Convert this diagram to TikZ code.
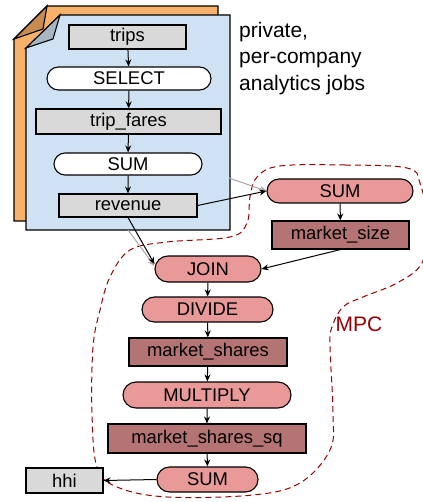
\documentclass[tikz,border=0pt]{standalone}
\usepackage{fontspec}
\setmainfont{Liberation Sans}
\usetikzlibrary{shapes.misc, arrows.meta}

\definecolor{pageorange}{HTML}{F6B26B}
\definecolor{foldorange}{HTML}{C98C50}
\definecolor{pageblue}{HTML}{CFE2F3}
\definecolor{foldblue}{HTML}{A8B6C4}
\definecolor{datagrey}{HTML}{D9D9D9}
\definecolor{oppink}{HTML}{EA9999}
\definecolor{datared}{HTML}{B47474}
\definecolor{mpcred}{HTML}{990000}

\tikzset{
    box/.style={draw, line width=1.1pt, inner sep=0pt, font=\fontsize{18.4}{20}\selectfont},
    data/.style={box, rectangle, fill=datagrey},
    op/.style={box, rounded rectangle, fill=white},
    mop/.style={op, fill=oppink},
    mdata/.style={data, fill=datared},
    flow/.style={-{Stealth[length=7pt, width=6pt]}, line width=1pt},
}

\begin{document}
\begin{tikzpicture}[x=1pt, y=-1pt]

            % the frame
            \useasboundingbox (0, 0) rectangle (422, 502);

            % the pages
            \draw[line width=1.1pt, fill=pageorange] (14, 39) -- (47, 6) -- (218, 6) -- (218, 221) -- (14, 221) -- cycle;
            \draw[line width=1.1pt, fill=foldorange] (14, 39) -- (47, 6) -- (43, 29) -- cycle;
            \draw[line width=1.1pt, fill=pageblue] (26, 48) -- (60, 15) -- (230, 15) -- (230, 230) -- (26, 230) -- cycle;
            \draw[line width=1.1pt, fill=foldblue] (26, 48) -- (60, 15) -- (53, 39) -- cycle;

            % the job
            \node[data, minimum width=117pt, minimum height=24pt] (trips) at (127.5, 37) {trips};
            \node[op, minimum width=164pt, minimum height=23pt] (select) at (129, 78.5) {SELECT};
            \node[data, minimum width=185pt, minimum height=25pt] (tripfares) at (128.5, 121.5) {trip\_fares};
            \node[op, minimum width=148pt, minimum height=22pt] (sum) at (128, 164) {SUM};
            \node[data, minimum width=138pt, minimum height=23pt] (revenue) at (128, 205.5) {revenue};

            \node[anchor=north west, inner sep=0pt, align=left, font=\fontsize{21}{26.5}\selectfont] (jobs) at (239, 22) {private,\\per-company\\analytics jobs};

            % mpc
            \draw[mpcred, line width=1pt, dash pattern=on 6pt off 4pt] plot[smooth cycle, tension=0.6] coordinates {
                (280, 166) (345, 165) (407, 168) (420, 183) (428, 225) (422, 263) (397, 283) (363, 297)
                (343, 307) (332, 327) (330, 347) (333, 413) (330, 450) (300, 483) (253, 495) (167, 497)
                (117, 487) (97, 467) (92, 413) (93, 347) (100, 310) (110, 277) (130, 250) (167, 242)
                (230, 237) (247, 223) (250, 197) (257, 177)
            };
            \node[mpcred, font=\fontsize{21}{24}\selectfont] (mpc) at (359, 324) {MPC};

            \node[mop, minimum width=146pt, minimum height=24pt] (msum) at (340, 191) {SUM};
            \node[mdata, minimum width=137pt, minimum height=28pt] (msize) at (340.5, 235) {market\_size};
            \node[mop, minimum width=106pt, minimum height=26pt] (join) at (208, 269) {JOIN};
            \node[mop, minimum width=131pt, minimum height=25pt] (divide) at (207.5, 309.5) {DIVIDE};
            \node[mdata, minimum width=158pt, minimum height=28pt] (shares) at (208, 352) {market\_shares};
            \node[mop, minimum width=168pt, minimum height=26pt] (multiply) at (207, 395) {MULTIPLY};
            \node[mdata, minimum width=198pt, minimum height=29pt] (sharessq) at (207, 438.5) {market\_shares\_sq};
            \node[mop, minimum width=101pt, minimum height=25pt] (hsum) at (207.5, 479.5) {SUM};
            \node[data, minimum width=77pt, minimum height=25pt] (hhi) at (64.5, 480.5) {hhi};

            % other companies
            \coordinate (otherrev) at (229, 178);
            \coordinate (otherjoin) at (128, 230);
            \draw[flow, gray!70] (otherrev) -- (msum.west);
            \draw[flow, gray!70] (otherjoin) -- ([yshift=3pt]join.west);

            % flows
            \foreach \a/\b in {trips/select, select/tripfares, tripfares/sum, sum/revenue, msum/msize,
                               join/divide, divide/shares, shares/multiply, multiply/sharessq, sharessq/hsum} {
                \draw[flow] (\a) -- (\b);
            }
            \draw[flow] (revenue.east) -- (msum.west);
            \draw[flow] (revenue.south) -- ([yshift=5pt]join.west);
            \draw[flow] (msize.south) -- (join.east);
            \draw[flow] (hsum.west) -- (hhi.east);
        \end{tikzpicture}
\end{document}
